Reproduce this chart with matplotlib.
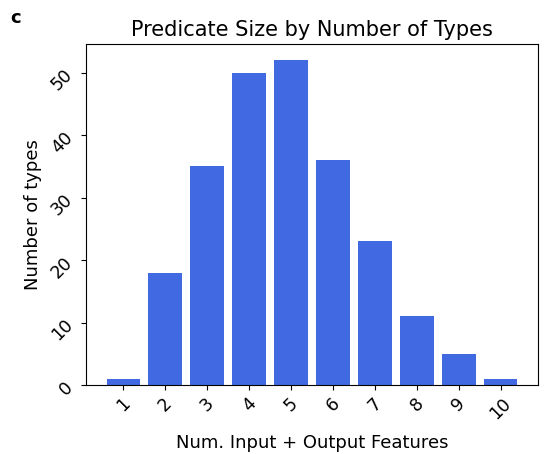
import matplotlib
matplotlib.use("Agg")
import matplotlib.pyplot as plt

num_features = [1, 2, 3, 4, 5, 6, 7, 8, 9, 10]
num_types = [1, 18, 35, 50, 52, 36, 23, 11, 5, 1]

fig = plt.figure(figsize=(5.44, 4.54), dpi=100)
ax = fig.add_axes([86 / 544, 1 - 385 / 454, (538 - 86) / 544, (385 - 44) / 454])

ax.bar(num_features, num_types, color="royalblue", width=0.8)
ax.set_xticks(num_features)
ax.set_xticklabels([str(v) for v in num_features], rotation=45, fontsize=12.5)
ax.tick_params(axis="y", labelrotation=45, labelsize=12.5)
ax.set_yticks([0, 10, 20, 30, 40, 50])
ax.set_xlabel("Num. Input + Output Features", fontsize=13, labelpad=8)
ax.set_ylabel("Number of types", fontsize=13)
ax.set_title("Predicate Size by Number of Types", fontsize=15, pad=6)
fig.text(10 / 544, 1 - 18 / 454, "c", fontsize=13, fontweight="bold", va="center")

fig.savefig("out.png", dpi=100)
